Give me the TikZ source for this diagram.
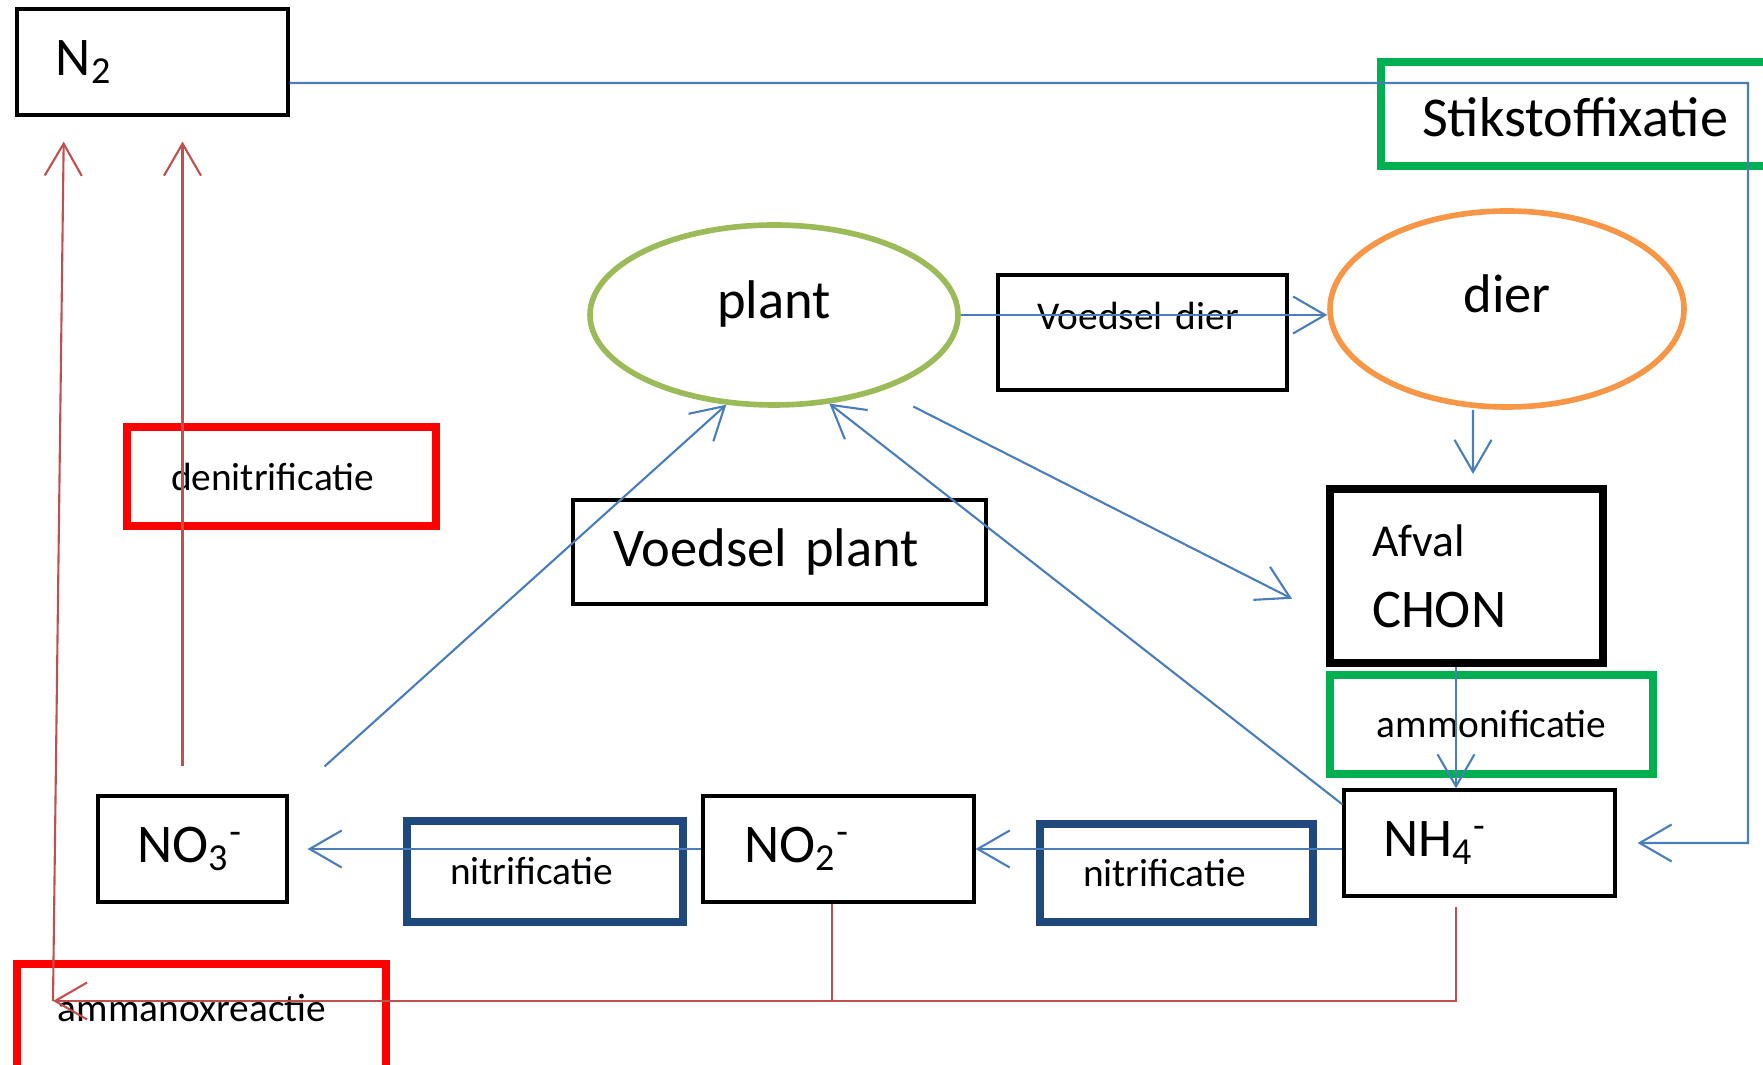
\documentclass[tikz,border=0pt]{standalone}
\usepackage{fontspec}
\setmainfont{Carlito}
\usepackage{xcolor}
\usepackage{tikz}
\usetikzlibrary{arrows.meta,shapes.geometric}
\definecolor{cycleblue}{HTML}{4A7EBB}
\definecolor{cyclered}{HTML}{C0504D}
\definecolor{plantgreen}{HTML}{9BBB59}
\definecolor{dierorange}{HTML}{F79646}
\definecolor{procgreen}{HTML}{00B050}
\definecolor{procred}{HTML}{FF0000}
\definecolor{procblue}{HTML}{1F497D}
\newcommand{\cyclebig}{\fontsize{15.5}{20.2}\selectfont}
\newcommand{\cyclesmall}{\fontsize{11.2}{13.5}\selectfont}

\begin{document}
\begin{tikzpicture}[
    stock/.style={
        draw=black,
        line width=0.9pt,
        font=\cyclebig,
        align=left,
        inner ysep=0pt
    },
    process/.style={
        line width=2pt,
        font=\cyclesmall,
        align=left,
        inner ysep=0pt
    },
    organism/.style={
        ellipse,
        line width=1.6pt,
        font=\cyclebig,
        inner sep=0pt,
        text depth=0.3cm
    },
    flow/.style={
        draw=cycleblue,
        line width=0.6pt,
        -{Straight Barb[length=3.2mm,width=3.7mm]}
    },
    loss/.style={
        draw=cyclered,
        line width=0.6pt,
        -{Straight Barb[length=3.2mm,width=3.7mm]}
    }
]

\useasboundingbox (0,0) rectangle (17.63,10.65);

% ============================================================
% Stocks: N2, ions, waste
% ============================================================

\node[stock, text width=1.93cm, inner xsep=0.39cm, minimum height=1.06cm]
    (n2) at (1.525,10.03) {N\textsubscript{2}};

\node[stock, text width=1.11cm, inner xsep=0.39cm, minimum height=1.06cm]
    (no3) at (1.925,2.16) {NO\textsubscript{3}\textsuperscript{-}};

\node[stock, text width=1.89cm, inner xsep=0.41cm, minimum height=1.06cm]
    (no2) at (8.385,2.16) {NO\textsubscript{2}\textsuperscript{-}};

\node[stock, text width=1.93cm, inner xsep=0.39cm, minimum height=1.06cm]
    (nh4) at (14.795,2.22) {NH\textsubscript{4}\textsuperscript{-}};

\node[stock, line width=2.3pt, text width=1.89cm, inner xsep=0.42cm,
      minimum height=1.74cm]
    (afval) at (14.665,4.89) {{\fontsize{13}{20.2}\selectfont Afval}\\CHON};

% ============================================================
% Organisms and food
% ============================================================

\node[organism, draw=plantgreen, minimum width=3.68cm, minimum height=1.80cm]
    (plant) at (7.74,7.50) {plant};

\node[organism, draw=dierorange, minimum width=3.54cm, minimum height=1.96cm]
    (dier) at (15.07,7.56) {dier};

\node[stock, text width=3.33cm, inner xsep=0.40cm, minimum height=1.04cm]
    (vplant) at (7.795,5.13) {Voedsel plant};

\node[stock, font=\cyclesmall, text width=2.11cm, inner xsep=0.39cm,
      minimum height=1.15cm, text height=0.28cm, text depth=0.34cm]
    (vdier) at (11.425,7.325) {Voedsel dier};

% ============================================================
% Processes
% ============================================================

\node[process, draw=procgreen, font=\fontsize{16}{20}\selectfont,
      text width=3.2cm, inner xsep=0.41cm, minimum height=1.04cm,
      text height=0.45cm, text depth=0cm]
    (fix) at (15.82,9.51) {Stikstoffixatie};

\node[process, draw=procgreen, minimum width=3.23cm, minimum height=0.99cm,
      align=center]
    (ammon) at (14.915,3.405) {ammonificatie};

\node[process, draw=procblue, text width=1.87cm, inner xsep=0.43cm,
      minimum height=0.98cm]
    (nitr2) at (11.765,1.92) {nitrificatie};

\node[process, draw=procblue, text width=1.90cm, inner xsep=0.43cm,
      minimum height=1.01cm]
    (nitr1) at (5.45,1.935) {nitrificatie};

\node[process, draw=procred, text width=2.21cm, inner xsep=0.44cm,
      minimum height=0.99cm]
    (denitr) at (2.815,5.885) {denitrificatie};

\node[process, draw=procred, text width=2.87cm, inner xsep=0.41cm,
      minimum height=1.2cm, text height=0.25cm, text depth=0.29cm]
    (anammox) at (2.015,0.41) {ammanoxreactie};

% ============================================================
% Blue flows
% ============================================================

\coordinate (fixcorner) at (17.48,9.82);
\draw[flow] ([yshift=-0.21cm]n2.east) -- (fixcorner) |- ([xshift=0.21cm]nh4.east);

\draw[flow] (plant.east) -- (plant.east -| dier.west);
\draw[flow] ([xshift=-0.34cm]dier.south) -- ([xshift=0.065cm,yshift=0.11cm]afval.north);
\draw[flow] ([xshift=-0.105cm]afval.south) -- ([xshift=-0.235cm]nh4.north);

\draw[flow] (nh4.west |- no2.east) -- (no2.east);
\draw[flow, shorten >=0.19cm] (no2.west) -- (no3.east);

\draw[flow] ([xshift=0.36cm,yshift=0.28cm]no3.north east) -- (plant.242);
\draw[flow] ([yshift=-0.16cm]nh4.north west) -- (plant.302);
\draw[flow, shorten <=0.35cm, shorten >=0.38cm] (plant.325) -- ([yshift=-0.40cm]afval.west);

% ============================================================
% Red flows
% ============================================================

\draw[loss, shorten <=0.28cm, shorten >=0.25cm]
    ([xshift=-0.1cm]no3.north) -- ([xshift=-0.1cm]no3.north |- n2.south);

\coordinate (amxcorner) at (0.53,0.64);
\draw[loss, shorten <=0.09cm] ([xshift=-0.235cm]nh4.south) |- (amxcorner);
\draw[draw=cyclered, line width=0.6pt]
    ([xshift=-0.065cm]no2.south) -- ([xshift=-0.065cm]no2.south |- amxcorner);
\draw[loss, shorten >=0.25cm] (amxcorner) -- ([xshift=-0.885cm]n2.south);

\end{tikzpicture}
\end{document}
